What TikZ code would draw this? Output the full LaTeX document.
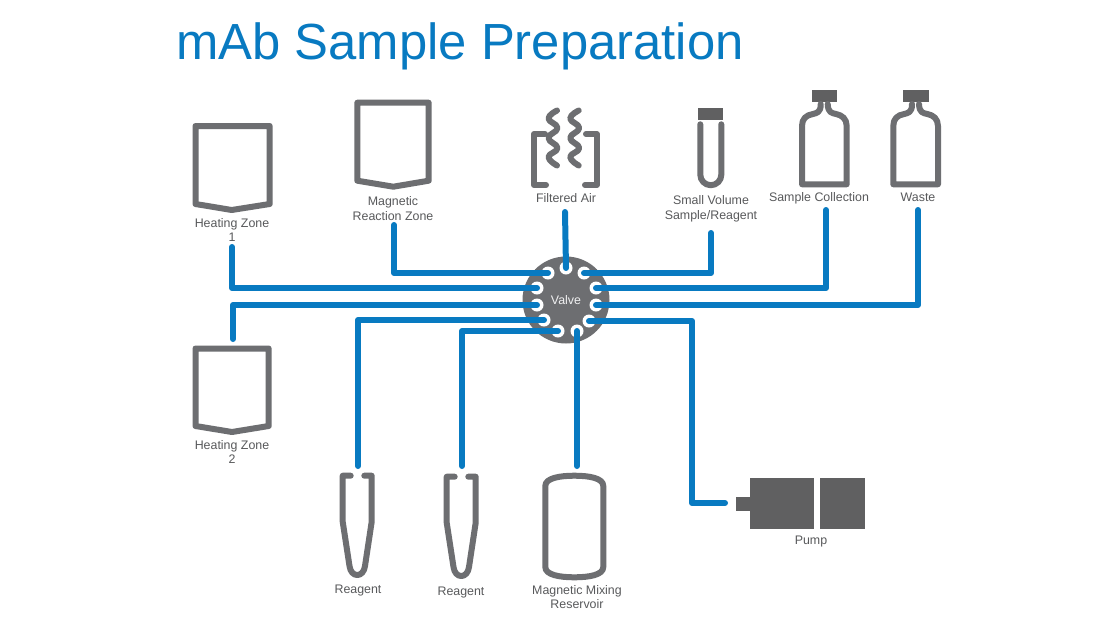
\documentclass[tikz,border=0pt]{standalone}
\usepackage{fontspec}
\setmainfont{Liberation Sans}
\usepackage{tikz}
\definecolor{pipeblue}{RGB}{8,122,193}
\definecolor{vesselgray}{RGB}{109,110,113}
\definecolor{pumpgray}{RGB}{96,96,97}
\definecolor{labelgray}{RGB}{88,89,91}
\tikzset{
  vessel/.style={draw=vesselgray, line width=6pt, line join=round, line cap=round},
  solidpart/.style={fill=pumpgray},
  pipe/.style={draw=pipeblue, line width=6pt, line join=round, line cap=round},
  port/.style={circle, fill=white, minimum size=13pt, inner sep=0pt},
  lbl/.style={text=labelgray, font=\fontsize{12.4}{14.6}\selectfont, align=center, inner sep=0pt},
}
\begin{document}
\begin{tikzpicture}[x=1pt, y=-1pt]
  \useasboundingbox (0,0) rectangle (1120,630);
  \fill[white] (0,0) rectangle (1120,630);
  % Title
  \node[anchor=base west, inner sep=0pt, text=pipeblue, font=\fontsize{50.8}{60}\selectfont] (title) at (176,59.5) {mAb Sample Preparation};

  % Valve body and its ports
  \node[circle, fill=vesselgray, minimum size=87pt, inner sep=0pt] (valve) at (566,300) {};
  \node[text=white!90!vesselgray, font=\fontsize{12.4}{14}\selectfont, inner sep=0pt] (valvetext) at (566,300) {Valve};
  \node[port] (pAir)    at (566,268) {};
  \node[port] (pSmall)  at (584,273) {};
  \node[port] (pSample) at (596,288) {};
  \node[port] (pWaste)  at (596,305) {};
  \node[port] (pPump)   at (589,321) {};
  \node[port] (pMix)    at (577,331) {};
  \node[port] (pReagB)  at (558,331) {};
  \node[port] (pReagA)  at (544,320) {};
  \node[port] (pHeatB)  at (537,305) {};
  \node[port] (pHeatA)  at (537,288) {};
  \node[port] (pMag)    at (548,273) {};

  % Free ends of the tubing
  \coordinate (eHeatA)  at (232,247);
  \coordinate (eMag)    at (394,225);
  \coordinate (eAir)    at (565,212);
  \coordinate (eSmall)  at (711,233);
  \coordinate (eSample) at (826,210);
  \coordinate (eWaste)  at (918,210);
  \coordinate (eHeatB)  at (233,339);
  \coordinate (eReagA)  at (358,466);
  \coordinate (eReagB)  at (462,466);
  \coordinate (eMix)    at (577,466);
  \coordinate (ePump)   at (725,503);

  % Tubing
  \draw[pipe] (eHeatA) |- (pHeatA.center);
  \draw[pipe] (eMag) |- (pMag.center);
  \draw[pipe] (eAir) -- (pAir.center);
  \draw[pipe] (eSmall) |- (pSmall.center);
  \draw[pipe] (eSample) |- (pSample.center);
  \draw[pipe] (eWaste) |- (pWaste.center);
  \draw[pipe] (eHeatB) |- (pHeatB.center);
  \draw[pipe] (eReagA) |- (pReagA.center);
  \draw[pipe] (eReagB) |- (pReagB.center);
  \draw[pipe] (eMix) -- (pMix.center);
  \draw[pipe] (ePump) -| (692,321) -- (pPump.center);

  % Heating zones and magnetic reaction zone
  \draw[vessel] (195.5,126) -- (269.7,126) -- (269.7,204) -- (231.7,210) -- (195.5,204) -- cycle;
  \draw[vessel] (357.3,102.7) -- (428.7,102.7) -- (428.7,180.7) -- (393.3,186.7) -- (357.3,180.7) -- cycle;
  \draw[vessel] (195.5,348.5) -- (268.7,348.5) -- (268.7,426) -- (232,432) -- (195.5,426) -- cycle;

  % Filtered air: brackets and two waves
  \draw[vessel] (545,134) -- (534,134) -- (534,185) -- (546,185);
  \draw[vessel] (586,134) -- (596.7,134) -- (596.7,185) -- (585,185);
  \foreach \wx in {0,21.7} {
    \draw[vessel, xshift=\wx] plot[smooth, tension=0.8] coordinates {(557,110.5) (548.5,118.5) (557.5,128) (548.5,138) (557.5,148) (548.5,157) (557,165.5)};
  }

  % Small volume tube
  \fill[solidpart] (698.3,108.3) rectangle (723.3,120);
  \draw[vessel] (700.3,124.3) -- (700.3,174.7) arc[start angle=180, end angle=0, radius=10.5] -- (721.3,124.3);

  % Bottles
  \foreach \bx in {0,91.3} {
    \begin{scope}[xshift=\bx]
      \fill[solidpart] (811.7,90) rectangle (837.3,102);
      \draw[vessel] (820.7,104) .. controls (821,113) and (816,113) .. (813,114)
        .. controls (806,115) and (802,119) .. (802,126) -- (802,184.3) -- (846.7,184.3) -- (846.7,126)
        .. controls (846.7,119) and (842,115) .. (836,114) .. controls (832,113) and (828,113) .. (827.7,104);
    \end{scope}
  }

  % Reagent tubes
  \foreach \rx/\ry in {0/0,104/1} {
    \draw[vessel, shift={(\rx,\ry)}] (350.7,475.7) -- (342.7,475.7) -- (342.7,521.7) -- (349.5,566)
      .. controls (351,578) and (363.5,578) .. (365,566) -- (371.7,521.7) -- (371.7,475.7) -- (364.3,475.7);
  }

  % Magnetic mixing reservoir
  \draw[vessel] (545.3,486) .. controls (545.3,478) and (560,475.7) .. (574.3,475.7)
    .. controls (589,475.7) and (603.3,478) .. (603.3,486) -- (603.3,567)
    .. controls (603.3,575) and (589,577.3) .. (574.3,577.3)
    .. controls (560,577.3) and (545.3,575) .. (545.3,567) -- cycle;

  % Pump
  \fill[solidpart] (736,497.3) rectangle (750,510.7);
  \fill[solidpart] (749.7,478) rectangle (814.3,529.3);
  \fill[solidpart] (819.7,478) rectangle (865,529.3);

  % Labels
  \node[lbl] (lHeatA) at (232,230) {Heating Zone\\1};
  \node[lbl] (lMag) at (393,208.5) {Magnetic\\Reaction Zone};
  \node[lbl] (lAir) at (566,198.5) {Filtered Air};
  \node[lbl] (lSmall) at (711,209) {Small Volume\\Sample/Reagent};
  \node[lbl] (lSample) at (819,198) {Sample Collection};
  \node[lbl] (lWaste) at (918,197.5) {Waste};
  \node[lbl] (lHeatB) at (232,452) {Heating Zone\\2};
  \node[lbl] (lReagA) at (358,591) {Reagent};
  \node[lbl] (lReagB) at (461,592.5) {Reagent};
  \node[lbl] (lMix) at (577,597) {Magnetic Mixing\\Reservoir};
  \node[lbl] (lPump) at (811,541.5) {Pump};
\end{tikzpicture}
\end{document}
